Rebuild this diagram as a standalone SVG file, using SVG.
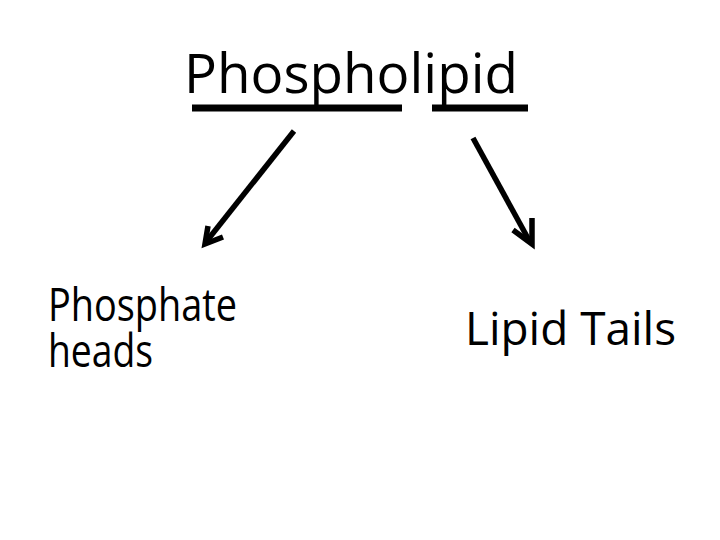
<svg xmlns="http://www.w3.org/2000/svg" width="720" height="540" viewBox="0 0 720 540">
<style>
text{font-family:"Open Sans","Liberation Sans",sans-serif;fill:#000}
.title{font-size:55px}
.lbl{font-size:45px}
.conn{stroke:#000;stroke-width:5.5;fill:none;stroke-linecap:butt}
.ul{stroke:#000;stroke-width:7}
</style>
<rect width="720" height="540" fill="#fff"/>
<g id="title">
<text class="title" x="184" y="93" textLength="334" lengthAdjust="spacingAndGlyphs">Phospholipid</text>
<line class="ul" x1="192" y1="108" x2="402" y2="108"/>
<line class="ul" x1="432" y1="108" x2="528" y2="108"/>
</g>
<g id="connectors">
<line class="conn" x1="294" y1="131" x2="206" y2="242"/>
<polyline class="conn" points="208,226 205,244 223,237"/>
<line class="conn" x1="473" y1="138" x2="530" y2="242"/>
<polyline class="conn" points="532,218 532,244 513,230"/>
</g>
<g id="phosphate-heads">
<text class="lbl" x="48" y="321" textLength="189" lengthAdjust="spacingAndGlyphs">Phosphate</text>
<text class="lbl" x="48" y="367" textLength="105" lengthAdjust="spacingAndGlyphs">heads</text>
</g>
<g id="lipid-tails">
<text class="lbl" x="465" y="345" textLength="211" lengthAdjust="spacingAndGlyphs">Lipid Tails</text>
</g>
</svg>
